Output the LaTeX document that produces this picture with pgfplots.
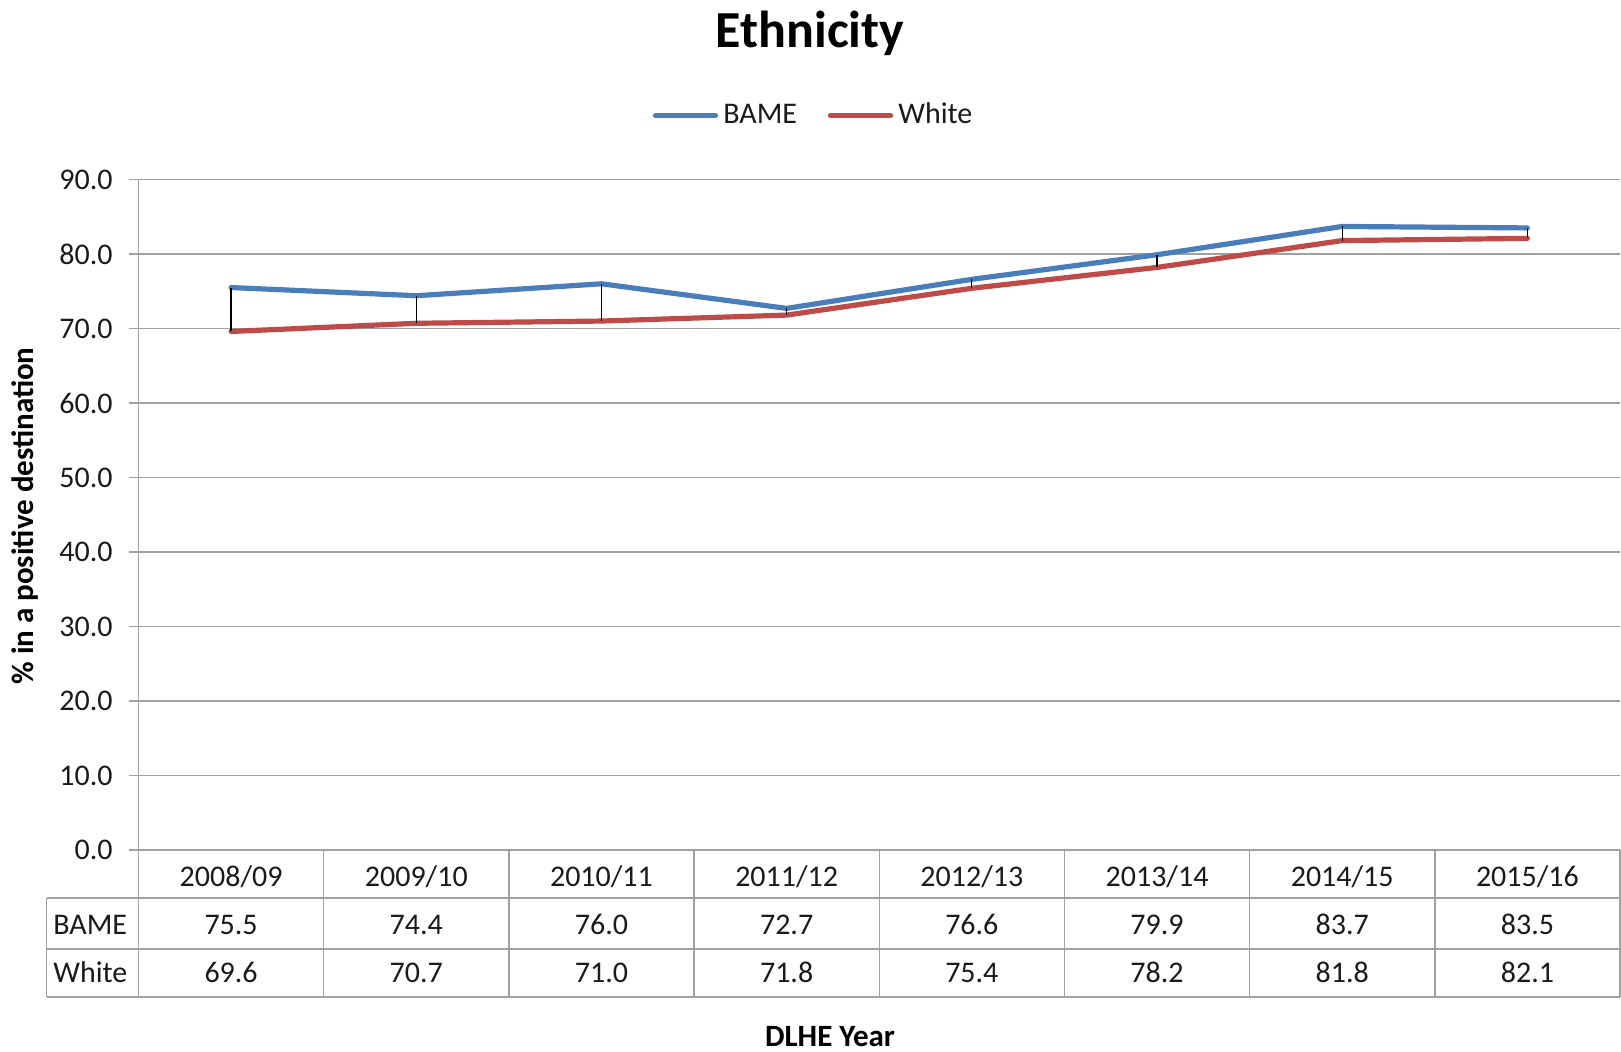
\documentclass[border=0pt]{standalone}
\usepackage{fontspec}
\setmainfont{Carlito}
\usepackage{pgfplots}
\usepackage{pgfplotstable}
\pgfplotsset{compat=1.18}
\definecolor{bamec}{HTML}{4A7EBB}
\definecolor{whitec}{HTML}{BE4B48}
\definecolor{gridgray}{HTML}{A0A0A0}
\definecolor{txt}{HTML}{1A1A1A}
\pgfplotstableread{
x bame white diff
0.5 75.5 69.6 5.9
1.5 74.4 70.7 3.7
2.5 76.0 71.0 5.0
3.5 72.7 71.8 0.9
4.5 76.6 75.4 1.2
5.5 79.9 78.2 1.7
6.5 83.7 81.8 1.9
7.5 83.5 82.1 1.4
}\data
\begin{document}
\begin{tikzpicture}
\useasboundingbox (-69.25pt,-100.5pt) rectangle (741.25pt,425pt);
\begin{axis}[
  at={(0,0)}, anchor=south west,
  scale only axis,
  width=740.75pt, height=335.25pt,
  xmin=0, xmax=8, ymin=0, ymax=90,
  axis y line*=left, axis x line*=bottom,
  axis line style={gridgray, line width=0.75pt},
  xtick=\empty,
  ytick={0,10,...,90},
  ymajorgrids,
  grid style={gridgray, line width=0.75pt},
  tick align=outside,
  major tick length=4.75pt,
  ytick style={gridgray, line width=0.75pt},
  yticklabel style={font=\fontsize{15}{18}\selectfont, text=txt, inner sep=0pt, anchor=east},
  yticklabel shift=8pt,
  /pgf/number format/.cd, fixed, fixed zerofill, precision=1, assume math mode=true,
  /pgfplots/.cd,
  clip=false,
]
\addplot[bamec, line width=2.6pt, line join=round, line cap=round, mark=none] table[x=x, y=bame] {\data};
\addplot[whitec, line width=2.6pt, line join=round, line cap=round, mark=none] table[x=x, y=white] {\data};
\addplot[draw=none, mark=none, forget plot,
  error bars/.cd, y dir=plus, y explicit, error mark=none,
  error bar style={black, line width=0.6pt}]
  table[x=x, y=white, y error plus=diff] {\data};
\end{axis}
% title
\node[anchor=base, inner sep=0pt, font=\fontsize{26}{31}\selectfont\bfseries, text=black] at (335.75pt,401pt) {Ethnicity};
% legend
\draw[bamec, line width=2.6pt, line cap=round] (258.5pt,367.15pt) -- (288.5pt,367.15pt);
\node[anchor=base west, inner sep=0pt, font=\fontsize{15}{18}\selectfont, text=txt] at (292.25pt,363pt) {BAME};
\draw[whitec, line width=2.6pt, line cap=round] (346pt,367.15pt) -- (376pt,367.15pt);
\node[anchor=base west, inner sep=0pt, font=\fontsize{15}{18}\selectfont, text=txt] at (379.75pt,363pt) {White};
% y label
\node[rotate=90, anchor=center, inner sep=0pt, font=\fontsize{15.5}{18}\selectfont\bfseries, text=black] at (-56.75pt,167pt) {\% in a positive destination};
% x label
\node[anchor=base, inner sep=0pt, font=\fontsize{15.5}{18}\selectfont\bfseries, text=black] at (345.75pt,-98pt) {DLHE Year};
% data table grid
\begin{scope}[gridgray, line width=0.75pt]
\draw (-45.9pt,-24pt) -- (740.75pt,-24pt);
\draw (-45.9pt,-49.5pt) -- (740.75pt,-49.5pt);
\draw (-45.9pt,-73.5pt) -- (740.75pt,-73.5pt);
\draw (-45.9pt,-24pt) -- (-45.9pt,-73.5pt);
\foreach \k in {0,...,8} {
  \draw ({\k*92.59375pt},0pt) -- ({\k*92.59375pt},-73.5pt);
}
\end{scope}
\begin{scope}[every node/.style={inner sep=0pt, font=\fontsize{15}{18}\selectfont, text=txt}]
\node[anchor=base west] at (-42.75pt,-42pt) {BAME};
\node[anchor=base west] at (-42.75pt,-66pt) {White};
\foreach \yr [count=\i from 0] in {2008/09,2009/10,2010/11,2011/12,2012/13,2013/14,2014/15,2015/16} {
  \node[anchor=base] at ({(\i+0.5)*92.59375pt},-18pt) {\yr};
}
\foreach \v [count=\i from 0] in {75.5,74.4,76.0,72.7,76.6,79.9,83.7,83.5} {
  \node[anchor=base] at ({(\i+0.5)*92.59375pt},-42pt) {\v};
}
\foreach \v [count=\i from 0] in {69.6,70.7,71.0,71.8,75.4,78.2,81.8,82.1} {
  \node[anchor=base] at ({(\i+0.5)*92.59375pt},-66pt) {\v};
}
\end{scope}
\end{tikzpicture}
\end{document}
